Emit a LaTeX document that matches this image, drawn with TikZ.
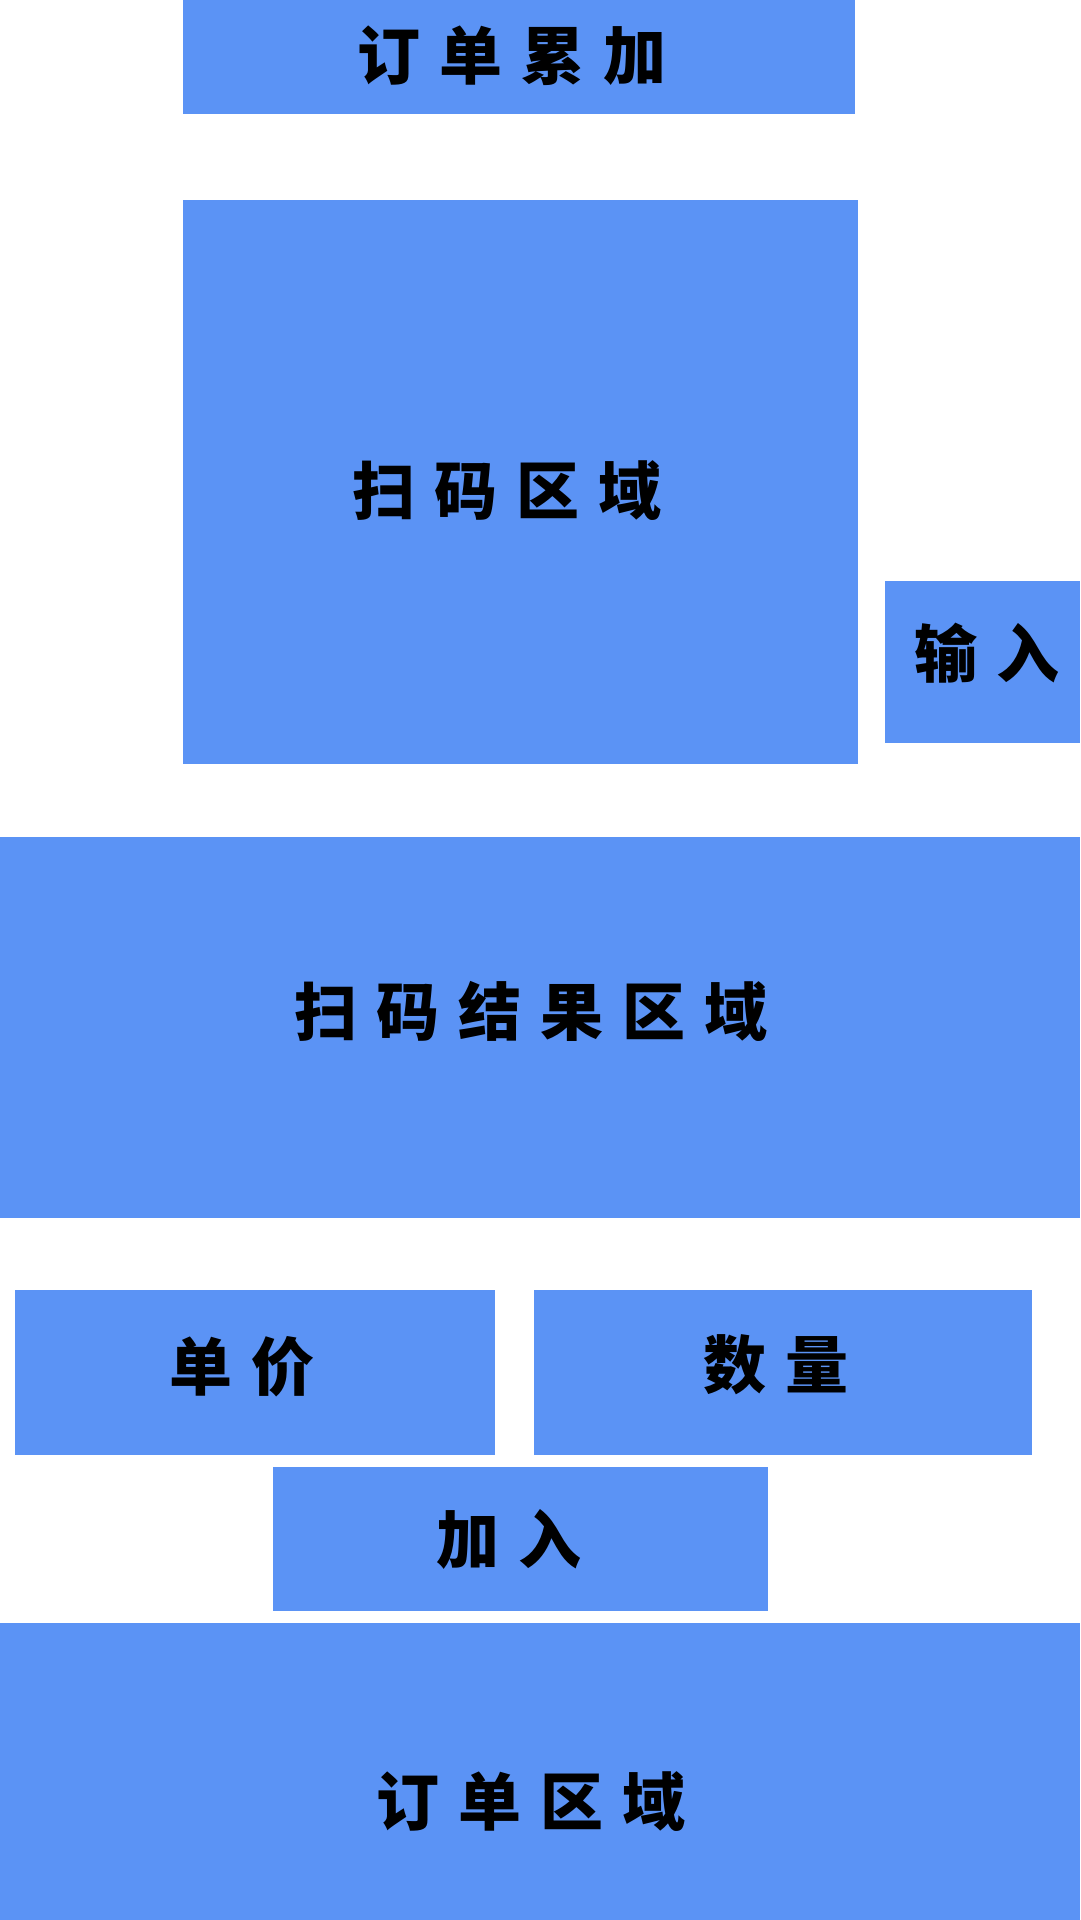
\documentclass[tikz,border=0pt]{standalone}
\usepackage{fontspec}
\newfontfamily\cjk{Noto Sans CJK SC}
\definecolor{boxblue}{RGB}{91,147,245}
\newcommand{\cgap}{\hspace{19pt}}
\begin{document}
\begin{tikzpicture}[x=1pt,y=-1pt,
  area/.style={fill=boxblue, draw=none, inner sep=0pt, outer sep=0pt, rectangle},
  lbl/.style={inner sep=0pt, font=\cjk\bfseries\fontsize{63}{63}\selectfont, text=black}]
\fill[white] (0,0) rectangle (1080,1920);
\useasboundingbox (0,0) rectangle (1080,1920);
\node[area, minimum width=672pt, minimum height=114pt] (leijia) at (519,57) {};
\node[area, minimum width=675pt, minimum height=564pt] (saoma) at (520.5,482) {};
\node[area, minimum width=195pt, minimum height=162pt] (shuru) at (982.5,662) {};
\node[area, minimum width=1080pt, minimum height=381pt] (jieguo) at (540,1027.5) {};
\node[area, minimum width=480pt, minimum height=165pt] (danjia) at (255,1372.5) {};
\node[area, minimum width=498pt, minimum height=165pt] (shuliang) at (783,1372.5) {};
\node[area, minimum width=495pt, minimum height=144pt] (jiaru) at (520.5,1539) {};
\node[area, minimum width=1080pt, minimum height=297pt] (dingdan) at (540,1771.5) {};
\node[lbl] (t1) at (512,56) {订\cgap 单\cgap 累\cgap 加};
\node[lbl] (t2) at (507,491) {扫\cgap 码\cgap 区\cgap 域};
\node[lbl] (t3) at (987,653) {输\cgap 入};
\node[lbl] (t4) at (531,1011) {扫\cgap 码\cgap 结\cgap 果\cgap 区\cgap 域};
\node[lbl] (t5) at (242,1367) {单\cgap 价};
\node[lbl] (t6) at (776,1365) {数\cgap 量};
\node[lbl] (t7) at (509,1539) {加\cgap 入};
\node[lbl] (t8) at (531,1802) {订\cgap 单\cgap 区\cgap 域};
\end{tikzpicture}
\end{document}
